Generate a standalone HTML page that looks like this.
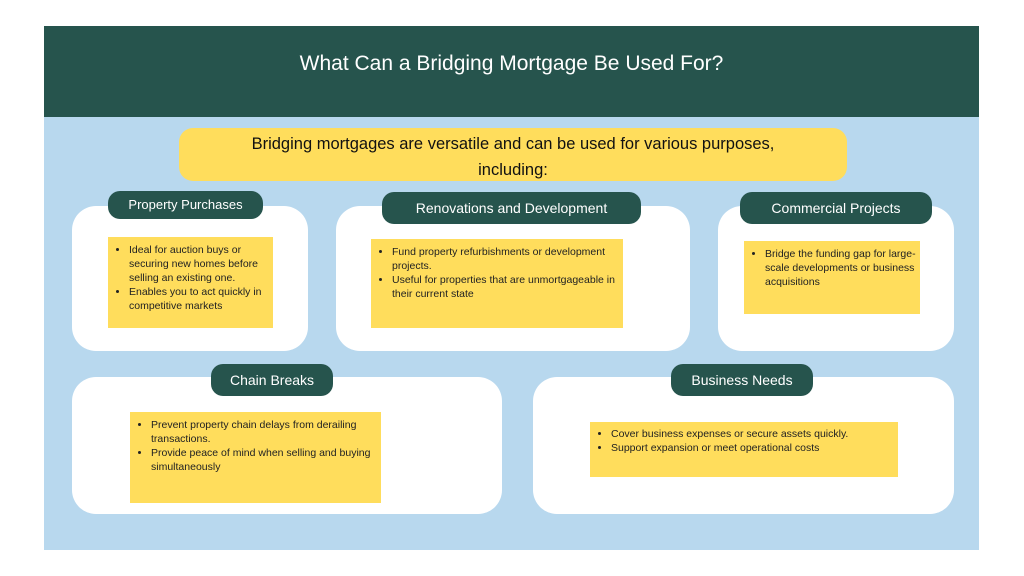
<!DOCTYPE html>
<html><head><style>
body{margin:0;width:1024px;height:576px;background:#fff;position:relative;overflow:hidden;font-family:"Liberation Sans",sans-serif}
.a{position:absolute}
.hd{left:44px;top:26px;width:935px;height:91px;background:#26544d;color:#fff;font-size:21px;text-align:center;line-height:76px}
.bg{left:44px;top:117px;width:935px;height:433px;background:#b8d8ee}
.cb{background:#ffdd5c;border-radius:14px;left:179px;top:128px;width:668px;height:53px;text-align:center;font-size:16.5px;line-height:26px;color:#111;padding-top:3px;box-sizing:border-box}
.card{background:#fff;border-radius:24px}
.tag{background:#26544d;color:#fff;border-radius:12px;text-align:center;font-size:14px}
.y{background:#ffdd5c;font-size:10.5px;color:#222;line-height:14px;box-sizing:border-box}
.y ul{margin:0;padding:6px 4px 0 21px}
.y li{margin:0}
</style></head><body>
<div class="a hd">What Can a Bridging Mortgage Be Used For?</div>
<div class="a bg"></div>
<div class="a cb">Bridging mortgages are versatile and can be used for various purposes,<br>including:</div>

<div class="a card" style="left:72px;top:206px;width:236px;height:145px"></div>
<div class="a tag" style="left:108px;top:191px;width:155px;height:28px;line-height:28px;font-size:13px">Property Purchases</div>
<div class="a y" style="left:108px;top:237px;width:165px;height:91px"><ul><li>Ideal for auction buys or securing new homes before selling an existing one.</li><li>Enables you to act quickly in competitive markets</li></ul></div>

<div class="a card" style="left:336px;top:206px;width:354px;height:145px"></div>
<div class="a tag" style="left:382px;top:192px;width:259px;height:32px;line-height:32px">Renovations and Development</div>
<div class="a y" style="left:371px;top:239px;width:252px;height:89px"><ul><li>Fund property refurbishments or development projects.</li><li>Useful for properties that are unmortgageable in their current state</li></ul></div>

<div class="a card" style="left:718px;top:206px;width:236px;height:145px"></div>
<div class="a tag" style="left:740px;top:192px;width:192px;height:32px;line-height:32px">Commercial Projects</div>
<div class="a y" style="left:744px;top:241px;width:176px;height:73px"><ul style="padding-left:21px;padding-right:2px"><li>Bridge the funding gap for large-scale developments or business acquisitions</li></ul></div>

<div class="a card" style="left:72px;top:377px;width:430px;height:137px"></div>
<div class="a tag" style="left:211px;top:364px;width:122px;height:32px;line-height:32px">Chain Breaks</div>
<div class="a y" style="left:130px;top:412px;width:251px;height:91px"><ul><li>Prevent property chain delays from derailing transactions.</li><li>Provide peace of mind when selling and buying simultaneously</li></ul></div>

<div class="a card" style="left:533px;top:377px;width:421px;height:137px"></div>
<div class="a tag" style="left:671px;top:364px;width:142px;height:32px;line-height:32px">Business Needs</div>
<div class="a y" style="left:590px;top:422px;width:308px;height:55px"><ul style="padding-top:5px"><li>Cover business expenses or secure assets quickly.</li><li>Support expansion or meet operational costs</li></ul></div>
</body></html>
